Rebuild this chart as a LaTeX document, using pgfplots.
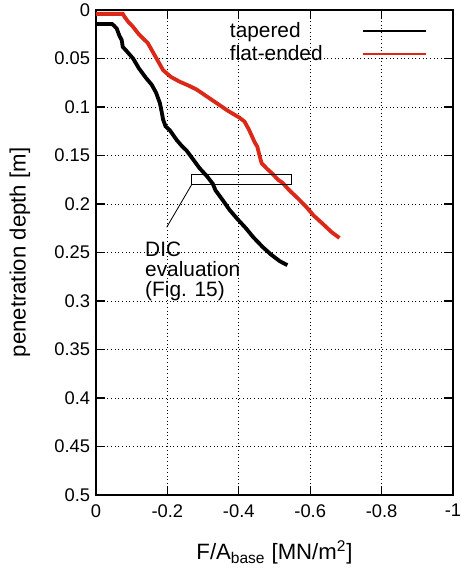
\documentclass[border=0pt]{standalone}
\usepackage{pgfplots}
\pgfplotsset{compat=1.18}
\usepackage{fontspec}
\setmainfont{Liberation Sans}
\definecolor{myred}{rgb}{0.86,0.16,0.10}
\pgfplotstableread{
x y
0 0.0144
-0.045 0.0144
-0.05 0.016
-0.058 0.019
-0.065 0.026
-0.072 0.031
-0.075 0.038
-0.085 0.042
-0.104 0.050
-0.12 0.060
-0.14 0.070
-0.156 0.077
-0.168 0.085
-0.179 0.096
-0.184 0.105
-0.188 0.113
-0.195 0.120
-0.207 0.124
-0.226 0.134
-0.24 0.140
-0.254 0.145
-0.27 0.153
-0.29 0.163
-0.31 0.171
-0.327 0.179
-0.335 0.186
-0.355 0.196
-0.374 0.206
-0.395 0.215
-0.42 0.225
-0.44 0.234
-0.466 0.244
-0.49 0.252
-0.515 0.259
-0.536 0.263
}\tapered
\pgfplotstableread{
x y
0 0.004
-0.075 0.004
-0.08 0.007
-0.09 0.012
-0.103 0.017
-0.12 0.025
-0.145 0.034
-0.165 0.047
-0.188 0.062
-0.21 0.069
-0.235 0.074
-0.26 0.078
-0.282 0.082
-0.31 0.089
-0.338 0.096
-0.37 0.104
-0.402 0.111
-0.416 0.115
-0.428 0.123
-0.438 0.131
-0.444 0.136
-0.452 0.141
-0.458 0.150
-0.464 0.158
-0.48 0.164
-0.492 0.168
-0.51 0.175
-0.522 0.178
-0.542 0.186
-0.565 0.194
-0.589 0.203
-0.61 0.212
-0.634 0.220
-0.66 0.229
-0.682 0.235
}\flatended
\begin{document}
\begin{tikzpicture}
\useasboundingbox (-57.6pt,-46.8pt) rectangle (219.6pt,297pt);
\begin{axis}[
  scale only axis, width=214.2pt, height=291pt,
  at={(0pt,0pt)}, anchor=south west,
  xmin=-1, xmax=0, x dir=reverse,
  ymin=0, ymax=0.5, y dir=reverse,
  xtick={-1,-0.8,-0.6,-0.4,-0.2,0},
  xticklabels={-1,-0.8,-0.6,-0.4,-0.2,0},
  ytick={0,0.05,0.1,0.15,0.2,0.25,0.3,0.35,0.4,0.45,0.5},
  yticklabels={0,0.05,0.1,0.15,0.2,0.25,0.3,0.35,0.4,0.45,0.5},
  tick align=inside, major tick length=5.4pt,
  tick style={black, line width=0.7pt},
  axis line style={line width=0.9pt},
  grid=major,
  major grid style={black, line width=0.5pt, dash pattern=on 0.6pt off 1.6pt},
  tick label style={font=\fontsize{11}{12}\selectfont},
  xticklabel style={yshift=-2pt},
  /pgf/number format/assume math mode=true,
  xlabel={F/A\textsubscript{base} [MN/m\textsuperscript{2}]},
  ylabel={penetration depth [m]},
  label style={font=\fontsize{13.3}{15}\selectfont},
  xlabel style={at={(axis description cs:0.5,-0.134)}, anchor=base},
  ylabel style={at={(axis description cs:-0.2129,0.5)}, anchor=center},
  clip=false,
  legend plot pos=right,
  legend cell align=left,
  legend style={draw=none, fill=none, at={(axis description cs:0.365,0.982)}, anchor=north west,
    font=\fontsize{12.5}{13.2}\selectfont, inner sep=0pt, row sep=-1pt},
  legend image code/.code={\path (0pt,0pt); \draw[#1, line width=1pt] (21pt,0pt) -- (58.6pt,0pt);},
]
\addplot[black, line width=2.3pt] table[x=x,y=y] {\tapered};
\addlegendentry{tapered}
\addplot[myred, line width=2.3pt] table[x=x,y=y] {\flatended};
\addlegendentry{flat-ended}
\draw[black, line width=0.5pt] (axis cs:-0.268,0.169) rectangle (axis cs:-0.547,0.180);
\draw[black, line width=0.5pt] (axis cs:-0.268,0.180) -- (axis cs:-0.198,0.224);
\node[anchor=north west, inner sep=0pt, align=left, font=\fontsize{12.5}{12}\selectfont] at (axis cs:-0.137,0.239) {DIC\\evaluation\\(Fig. 15)};
\end{axis}
\end{tikzpicture}
\end{document}
